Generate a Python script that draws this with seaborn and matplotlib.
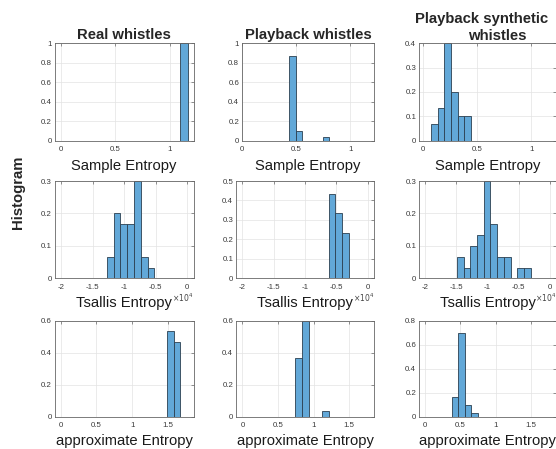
import numpy as np
import pandas as pd
import matplotlib
matplotlib.use('Agg')
import matplotlib.pyplot as plt
import seaborn as sns

# ---- data (relative frequency per bin) ----
# Sample Entropy
se_real_edges = [1.10, 1.17]
se_real_h = [1.0]
se_play_edges = [0.435, 0.497, 0.559, 0.621, 0.683, 0.745, 0.807]
se_play_h = [0.867, 0.1, 0.0, 0.0, 0.0, 0.033]
se_syn_edges = [0.072, 0.134, 0.196, 0.257, 0.319, 0.380, 0.442]
se_syn_h = [0.067, 0.133, 0.4, 0.2, 0.1, 0.1]

# Tsallis Entropy
ts_real_edges = [-12750, -11670, -10590, -9510, -8430, -7350, -6270, -5190]
ts_real_h = [0.067, 0.2, 0.167, 0.167, 0.3, 0.067, 0.033]
ts_play_edges = [-6200, -5150, -4100, -3050]
ts_play_h = [0.433, 0.333, 0.233]
ts_syn_edges = [-14900, -13825, -12750, -11675, -10600, -9525, -8450,
                -7375, -6300, -5225, -4150, -3075]
ts_syn_h = [0.067, 0.033, 0.1, 0.133, 0.3, 0.167, 0.067, 0.067, 0.0, 0.033, 0.033]

# approximate Entropy
ap_real_edges = [1.487, 1.581, 1.675]
ap_real_h = [0.533, 0.467]
ap_play_edges = [0.746, 0.839, 0.932, 1.025, 1.118, 1.211]
ap_play_h = [0.367, 0.6, 0.0, 0.0, 0.033]
ap_syn_edges = [0.38, 0.47, 0.56, 0.655, 0.745]
ap_syn_h = [0.167, 0.7, 0.1, 0.033]

col_titles = ['Real whistles', 'Playback whistles']
row_labels = ['Sample Entropy', 'Tsallis Entropy', 'approximate Entropy']

sns.set_style('white')
plt.rcParams['font.family'] = ['Liberation Sans', 'DejaVu Sans']

W, H = 556, 449
fig = plt.figure(figsize=(W / 100, H / 100), dpi=100)

rows_px = [(43.3, 140.7), (181.0, 278.3), (320.7, 416.7)]
cols_px = [(54.7, 193.5), (236.0, 374.0), (419.0, 556.0)]

panels = [
    [(se_real_edges, se_real_h), (se_play_edges, se_play_h), (se_syn_edges, se_syn_h)],
    [(ts_real_edges, ts_real_h), (ts_play_edges, ts_play_h), (ts_syn_edges, ts_syn_h)],
    [(ap_real_edges, ap_real_h), (ap_play_edges, ap_play_h), (ap_syn_edges, ap_syn_h)],
]
ylims = [[1, 1, 0.4], [0.3, 0.5, 0.3], [0.6, 0.6, 0.8]]
ysteps = [[0.2, 0.2, 0.1], [0.1, 0.1, 0.1], [0.2, 0.2, 0.2]]
xlims = [
    [(-0.06, 1.22), (0.0, 1.22), (-0.04, 1.23)],
    [(-21000, 1000), (-21000, 1000), (-21000, 1000)],
    [(-0.085, 1.86), (-0.09, 1.85), (-0.084, 1.85)],
]
xticks = [[0, 0.5, 1], [-20000, -15000, -10000, -5000, 0], [0, 0.5, 1, 1.5]]

for r in range(3):
    for c in range(3):
        left, right = cols_px[c]
        if r == 0 and c == 1:
            left = 242.0
        top, bottom = rows_px[r]
        ax = fig.add_axes([left / W, 1 - bottom / H, (right - left) / W, (bottom - top) / H])
        edges, h = panels[r][c]
        e = np.array(edges, dtype=float)
        df = pd.DataFrame({'center': (e[:-1] + e[1:]) / 2, 'freq': h})
        sns.histplot(data=df, x='center', weights='freq', bins=list(edges), ax=ax,
                     stat='count', color='#62A8D8', alpha=1, edgecolor='#2b3f50',
                     linewidth=0.6)
        ax.set_xlim(*xlims[r][c])
        ax.set_ylim(0, ylims[r][c])
        ax.set_xticks(xticks[r])
        ax.set_yticks(np.arange(0, ylims[r][c] + 1e-9, ysteps[r][c]))
        if r == 1:
            ax.set_xticklabels(['-2', '-1.5', '-1', '-0.5', '0'])
            ax.text(1.0, -0.2, r'$\times10^{4}$', transform=ax.transAxes,
                    ha='right', va='center', fontsize=5.5, color='#444444')
        else:
            ax.set_xticklabels([('%g' % t) for t in xticks[r]])
        ax.set_yticklabels([('%g' % round(t, 2)) for t in ax.get_yticks()])
        ax.grid(True, color='#e3e3e3', linewidth=0.5)
        ax.set_axisbelow(True)
        for s in ax.spines.values():
            s.set_visible(True)
            s.set_color('#666666')
            s.set_linewidth(0.6)
        ax.tick_params(direction='in', length=2.5, width=0.5, colors='#666666',
                       labelcolor='#3a3a3a', labelsize=5.7, top=True, right=True)
        ax.tick_params(axis='x', pad=4)
        ax.tick_params(axis='y', pad=2)
        ax.set_ylabel('')
        ax.set_xlabel(row_labels[r], fontsize=10.6, color='#1a1a1a')
        ax.xaxis.set_label_coords(0.5, -0.185)
        if r == 0 and c < 2:
            ax.set_title(col_titles[c], fontsize=10.7, fontweight='bold', pad=3)

# third column title, split over two lines like the original
fig.text(481.7 / W, 1 - 22.7 / H, 'Playback synthetic', ha='center', va='baseline',
         fontsize=10.7, fontweight='bold')
fig.text(497.0 / W, 1 - 40.0 / H, 'whistles', ha='center', va='baseline',
         fontsize=10.7, fontweight='bold')

fig.text(18 / W, 1 - 192.5 / H, 'Histogram', rotation=90, ha='center', va='center',
         fontsize=10.7, fontweight='bold')

plt.savefig('out.png', dpi=100)
